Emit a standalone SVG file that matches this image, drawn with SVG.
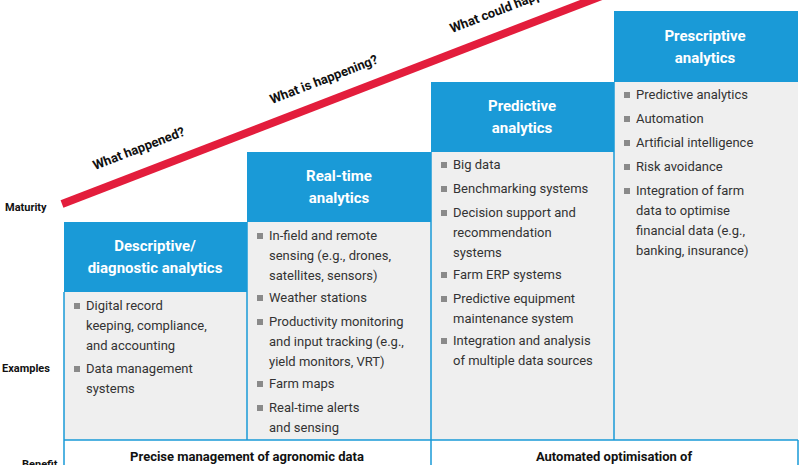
<svg xmlns="http://www.w3.org/2000/svg" width="800" height="465" viewBox="0 0 800 465">
<style>
.hd{fill:#1a9ad7}
.bd{fill:#efefef}
.ht{font-family:Roboto,"Liberation Sans",sans-serif;font-size:15px;font-weight:bold;fill:#fff;text-anchor:middle}
.it{font-family:Roboto,"Liberation Sans",sans-serif;font-size:13px;fill:#333}
.bl{fill:#8a8a8a}
.lb{font-family:Roboto,"Liberation Sans",sans-serif;font-size:11px;font-weight:bold;fill:#111}
.q{font-family:Roboto,"Liberation Sans",sans-serif;font-size:13px;font-weight:bold;fill:#111}
.bt{font-family:Roboto,"Liberation Sans",sans-serif;font-size:13px;font-weight:bold;fill:#111;text-anchor:middle}
.ln{stroke:#1a9ad7;stroke-width:1.5;fill:none}
</style>
<rect width="800" height="465" fill="#fff"/>
<g id="connectors">
<line x1="62" y1="204" x2="612" y2="-8" stroke="#e31d3c" stroke-width="8"/>
</g>
<text class="q" transform="translate(95,170) rotate(-21)">What happened?</text>
<text class="q" transform="translate(272,104) rotate(-21)">What is happening?</text>
<text class="q" transform="translate(452,33) rotate(-21)">What could happen?</text>
<text class="lb" x="5" y="211">Maturity</text>
<text class="lb" x="2" y="372">Examples</text>
<text class="lb" x="22" y="468">Benefit</text>
<g id="col1">
<rect class="hd" x="64" y="222" width="183" height="70"/>
<rect class="bd" x="64" y="292" width="183" height="148"/>
<text class="ht" x="155" y="251">Descriptive/</text>
<text class="ht" x="155" y="273">diagnostic analytics</text>
<g class="it"><rect class="bl" x="74" y="303" width="6" height="6"/><text x="86" y="310">Digital record</text><text x="86" y="330">keeping, compliance,</text><text x="86" y="350">and accounting</text>
<rect class="bl" x="74" y="366" width="6" height="6"/><text x="86" y="373">Data management</text><text x="86" y="393">systems</text></g>
</g>
<g id="col2">
<rect class="hd" x="247" y="152" width="184" height="70"/>
<rect class="bd" x="247" y="222" width="184" height="218"/>
<text class="ht" x="339" y="181">Real-time</text>
<text class="ht" x="339" y="203">analytics</text>
<g class="it"><rect class="bl" x="257" y="233" width="6" height="6"/><text x="269" y="240">In-field and remote</text><text x="269" y="260">sensing (e.g., drones,</text><text x="269" y="280">satellites, sensors)</text>
<rect class="bl" x="257" y="295" width="6" height="6"/><text x="269" y="302">Weather stations</text>
<rect class="bl" x="257" y="319" width="6" height="6"/><text x="269" y="326">Productivity monitoring</text><text x="269" y="346">and input tracking (e.g.,</text><text x="269" y="366">yield monitors, VRT)</text>
<rect class="bl" x="257" y="381" width="6" height="6"/><text x="269" y="388">Farm maps</text>
<rect class="bl" x="257" y="405" width="6" height="6"/><text x="269" y="412">Real-time alerts</text><text x="269" y="432">and sensing</text></g>
</g>
<g id="col3">
<rect class="hd" x="431" y="82" width="183" height="70"/>
<rect class="bd" x="431" y="152" width="183" height="288"/>
<text class="ht" x="522" y="111">Predictive</text>
<text class="ht" x="522" y="133">analytics</text>
<g class="it"><rect class="bl" x="441" y="162" width="6" height="6"/><text x="453" y="169">Big data</text>
<rect class="bl" x="441" y="186" width="6" height="6"/><text x="453" y="193">Benchmarking systems</text>
<rect class="bl" x="441" y="210" width="6" height="6"/><text x="453" y="217">Decision support and</text><text x="453" y="237">recommendation</text><text x="453" y="257">systems</text>
<rect class="bl" x="441" y="272" width="6" height="6"/><text x="453" y="279">Farm ERP systems</text>
<rect class="bl" x="441" y="296" width="6" height="6"/><text x="453" y="303">Predictive equipment</text><text x="453" y="323">maintenance system</text>
<rect class="bl" x="441" y="338" width="6" height="6"/><text x="453" y="345">Integration and analysis</text><text x="453" y="365">of multiple data sources</text></g>
</g>
<g id="col4">
<rect class="hd" x="614" y="11" width="184" height="71"/>
<rect class="bd" x="614" y="82" width="184" height="358"/>
<text class="ht" x="705" y="41">Prescriptive</text>
<text class="ht" x="705" y="63">analytics</text>
<g class="it"><rect class="bl" x="624" y="92" width="6" height="6"/><text x="636" y="99">Predictive analytics</text>
<rect class="bl" x="624" y="116" width="6" height="6"/><text x="636" y="123">Automation</text>
<rect class="bl" x="624" y="140" width="6" height="6"/><text x="636" y="147">Artificial intelligence</text>
<rect class="bl" x="624" y="164" width="6" height="6"/><text x="636" y="171">Risk avoidance</text>
<rect class="bl" x="624" y="188" width="6" height="6"/><text x="636" y="195">Integration of farm</text><text x="636" y="215">data to optimise</text><text x="636" y="235">financial data (e.g.,</text><text x="636" y="255">banking, insurance)</text></g>
</g>
<g id="benefit">
<path class="ln" d="M247 222V440M431 152V440M614 82V440M64 440H798M64 292V465M431 440V465M798 440V465"/>
<text class="bt" x="247" y="461">Precise management of agronomic data</text>
<text class="bt" x="614" y="461">Automated optimisation of</text>
</g>
</svg>
